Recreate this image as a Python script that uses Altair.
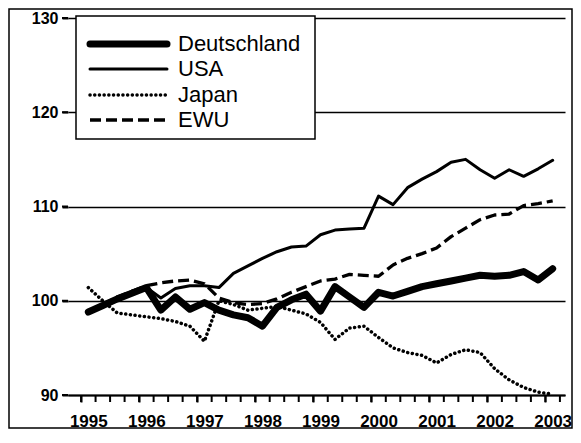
import altair as alt
import pandas as pd

# ---- data ----
years = ["1995", "1996", "1997", "1998", "1999", "2000", "2001", "2002", "2003"]
quarters = [f"{1995 + i // 4}Q{i % 4 + 1}" for i in range(33)]

deutschland = [98.8, 99.5, 100.2, 100.8, 101.4, 99.0, 100.4, 99.1, 99.8, 99.0,
               98.5, 98.2, 97.3, 99.3, 100.1, 100.7, 98.9, 101.5, 100.4, 99.3,
               100.9, 100.5, 101.0, 101.5, 101.8, 102.1, 102.4, 102.7, 102.6, 102.7,
               103.1, 102.2, 103.4]
usa = [98.8, 99.6, 100.3, 101.0, 101.4, 100.3, 101.3, 101.6, 101.6, 101.4,
       102.9, 103.7, 104.5, 105.2, 105.7, 105.8, 107.0, 107.5, 107.6, 107.7,
       111.1, 110.2, 112.0, 112.9, 113.7, 114.7, 115.0, 113.9, 113.0, 113.9,
       113.2, 114.0, 114.9]
japan = [101.4, 100.0, 98.7, 98.5, 98.3, 98.1, 97.8, 97.3, 95.7, 100.0,
         99.6, 99.0, 99.2, 99.4, 99.0, 98.6, 97.7, 95.9, 97.1, 97.3,
         96.1, 95.0, 94.5, 94.2, 93.4, 94.3, 94.8, 94.5, 92.8, 91.6,
         90.8, 90.3, 90.1]
ewu = [98.8, 99.6, 100.4, 101.0, 101.6, 101.9, 102.1, 102.2, 101.8, 100.3,
       99.8, 99.6, 99.7, 100.2, 100.9, 101.5, 102.1, 102.3, 102.8, 102.7,
       102.6, 103.8, 104.5, 105.0, 105.6, 106.8, 107.7, 108.6, 109.1, 109.2,
       110.1, 110.3, 110.6]
y_ticks = [90, 100, 110, 120, 130]

series_names = ["Deutschland", "USA", "Japan", "EWU"]
series_values = [deutschland, usa, japan, ewu]

# ---- styles ----
FONT = "Liberation Sans"
W, H = 497, 377
X_MIN, X_MAX = -1.4, 32.85
HALF_BAND = 0.5 * W / (X_MAX - X_MIN)
styles = {
    "Deutschland": dict(strokeWidth=7, strokeCap="round"),
    "USA": dict(strokeWidth=3, strokeCap="round"),
    "Japan": dict(strokeWidth=3.5, strokeCap="round", strokeDash=[0.1, 4.6]),
    "EWU": dict(strokeWidth=3.3, strokeCap="butt", strokeDash=[11, 5]),
}
draw_order = ["EWU", "Japan", "USA", "Deutschland"]

# quarter boundaries (where the category ticks sit)
boundaries = [k + 0.5 for k in range(-1, len(quarters))]

year_array = "[" + ",".join(f"'{y}'" for y in years) + "]"
x_scale = alt.Scale(domain=[X_MIN, X_MAX], nice=False, zero=False)
x_axis = alt.Axis(
    title=None,
    values=boundaries,
    labelExpr=f"(datum.value + 0.5) % 4 == 0 ? {year_array}[(datum.value + 0.5) / 4] : ''",
    labelOffset=HALF_BAND,
    labelOverlap=False,
    labelFlush=False,
    labelFont=FONT, labelFontSize=17, labelFontWeight="bold", labelColor="black",
    labelPadding=11,
    ticks=True, tickSize=7, tickWidth=2, tickColor="black", tickOpacity=1,
    domain=True, domainColor="black", domainWidth=2,
    grid=False, zindex=1,
)
y_scale = alt.Scale(domain=[90, 130], nice=False, zero=False)
y_axis = alt.Axis(
    title=None, values=y_ticks,
    labelFont=FONT, labelFontSize=16, labelFontWeight="bold", labelColor="black",
    labelPadding=4, ticks=True, tickSize=6, tickColor="black", tickWidth=2,
    tickOpacity=1,
    domain=False, grid=True, gridColor="black", gridWidth=1.5, gridOpacity=1,
)

layers = []

for name in draw_order:
    vals = series_values[series_names.index(name)]
    df = pd.DataFrame({"q": list(range(len(vals))), "quarter": quarters,
                       "value": vals, "series": name})
    layers.append(
        alt.Chart(df).mark_line(color="black", strokeJoin="round", **styles[name]).encode(
            x=alt.X("q:Q", scale=x_scale, axis=x_axis),
            y=alt.Y("value:Q", scale=y_scale, axis=y_axis),
        )
    )

# category tick marks below the x axis and small ticks left of the grid lines
layers.append(
    alt.Chart(pd.DataFrame({"b": boundaries})).mark_rule(
        color="black", strokeWidth=2
    ).encode(x=alt.X("b:Q", scale=x_scale), y=alt.value(H), y2=alt.value(H + 7))
)
layers.append(
    alt.Chart(pd.DataFrame({"v": y_ticks})).mark_rule(
        color="black", strokeWidth=2
    ).encode(y=alt.Y("v:Q", scale=y_scale), x=alt.value(-6), x2=alt.value(0))
)

# legend box
layers.append(
    alt.Chart(pd.DataFrame({"f": [0]})).mark_rect(
        fill="white", stroke="black", strokeWidth=1.5
    ).encode(x=alt.value(8), x2=alt.value(247), y=alt.value(-2), y2=alt.value(121))
)
row_y = [26, 51, 77, 102]
for name, ry in zip(series_names, row_y):
    ldf = pd.DataFrame({"series": [name]})
    layers.append(
        alt.Chart(ldf).mark_rule(color="black", **styles[name]).encode(
            x=alt.value(22), x2=alt.value(99), y=alt.value(ry)
        )
    )
    layers.append(
        alt.Chart(ldf).mark_text(align="left", baseline="middle", font=FONT,
                                 fontSize=22, color="black").encode(
            x=alt.value(110), y=alt.value(ry), text="series:N"
        )
    )

# outer frame of the figure
layers.append(
    alt.Chart(pd.DataFrame({"f": [0]})).mark_rect(
        fill="transparent", stroke="black", strokeWidth=1.5
    ).encode(x=alt.value(-59), x2=alt.value(504), y=alt.value(-9), y2=alt.value(410))
)

chart = alt.layer(*layers).properties(
    width=W, height=H,
    autosize=alt.AutoSizeParams(type="none"),
    padding={"left": 60, "top": 10, "right": 8, "bottom": 34},
    background="white",
).configure_view(stroke=None)

chart.save("out.html", embed_options={"renderer": "svg", "actions": False})
